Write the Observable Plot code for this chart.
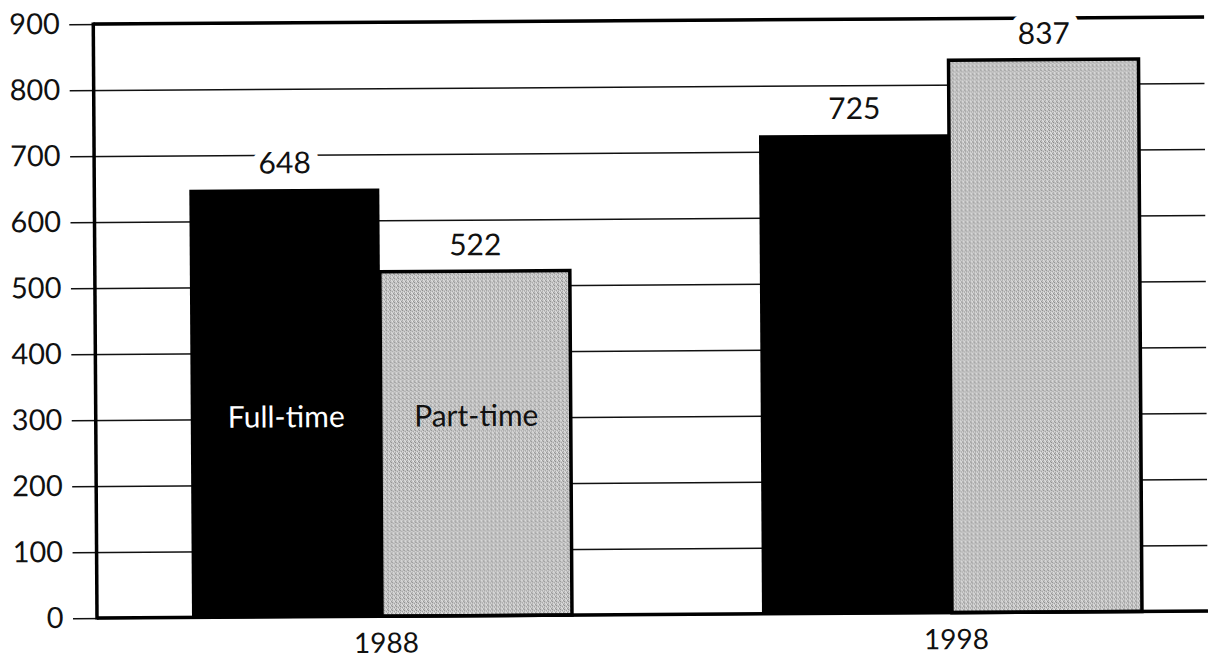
<!DOCTYPE html>
<html>
<head>
<meta charset="utf-8">
<script src="https://cdn.jsdelivr.net/npm/d3@7"></script>
<script src="https://cdn.jsdelivr.net/npm/@observablehq/plot@0.6"></script>
<style>
  html, body { margin: 0; padding: 0; background: #fff; }
  #chart svg { display: block; transform-origin: 97px 618px; transform: rotate(-0.36deg); }
</style>
</head>
<body>
<div id="chart"></div>
<script>
const years = ["1988", "1998"];
const seriesNames = ["Full-time", "Part-time"];
const fullTime = [648, 725];
const partTime = [522, 837];
const yTicks = [0, 100, 200, 300, 400, 500, 600, 700, 800, 900];

const rows = years.flatMap((yr, i) => [
  {year: yr, type: seriesNames[0], value: fullTime[i], key: yr + "|" + seriesNames[0]},
  {year: yr, type: seriesNames[1], value: partTime[i], key: yr + "|" + seriesNames[1]}
]);
const xDomain = [];
years.forEach((yr, i) => {
  if (i > 0) xDomain.push("gap" + i);
  seriesNames.forEach(s => xDomain.push(yr + "|" + s));
});
const xRange = [191, 1143];
const bw = (xRange[1] - xRange[0]) / xDomain.length;
const FONT = "Lato, 'Open Sans', sans-serif";

const plot = Plot.plot({
  width: 1208,
  height: 668,
  marginLeft: 73,
  marginRight: 0,
  marginTop: 24,
  marginBottom: 50,
  style: {fontFamily: FONT, fontSize: "29px", color: "#111", background: "#fff"},
  x: {domain: xDomain, range: xRange, padding: 0, axis: null},
  y: {domain: [0, 900], ticks: yTicks, tickSize: 0, tickPadding: 10, tickFormat: d => String(d), label: null},
  marks: [
    Plot.ruleY(yTicks, {stroke: "#111", strokeWidth: 1.5}),
    Plot.barY(rows.filter(d => d.type === seriesNames[0]), {x: "key", y: "value", fill: "#000", inset: 0}),
    Plot.barY(rows.filter(d => d.type === seriesNames[1]), {x: "key", y: "value", fill: "url(#dither)", stroke: "#000", strokeWidth: 3.5, inset: 0}),
    Plot.text(rows, {x: "key", y: "value", text: d => String(d.value), dy: -26, fontSize: 30, fill: "#111", stroke: "#fff", strokeWidth: 18, paintOrder: "stroke", strokeLinejoin: "round"}),
    Plot.text(rows.filter(d => d.year === years[0]), {x: "key", text: "type", frameAnchor: "bottom", dy: -190, fontSize: 30, fill: d => d.type === seriesNames[0] ? "#fff" : "#111"}),
    Plot.text(rows.filter(d => d.type === seriesNames[1]), {x: "key", text: "year", frameAnchor: "bottom", dy: 36, dx: -bw / 2 + 4, fontSize: 28, fill: "#111"})
  ]
});

const svg = d3.select(plot);
const defs = svg.insert("defs", ":first-child");
const pat = defs.append("pattern").attr("id", "dither").attr("width", 4).attr("height", 4).attr("patternUnits", "userSpaceOnUse");
pat.append("rect").attr("width", 4).attr("height", 4).attr("fill", "#c6c6c6");
[[0,0,"#888888"],[2,1,"#9a9a9a"],[1,2,"#e4e4e4"],[3,3,"#909090"],[2,3,"#ececec"],[0,2,"#a4a4a4"],[3,1,"#dedede"]].forEach(([x,y,c]) =>
  pat.append("rect").attr("x", x).attr("y", y).attr("width", 1).attr("height", 1).attr("fill", c));

const yS = plot.scale("y");
const g = svg.append("g").attr("stroke", "#000").attr("fill", "none");
[0, 900].forEach(v => g.append("line").attr("x1", 97).attr("x2", 1208).attr("y1", yS.apply(v)).attr("y2", yS.apply(v)).attr("stroke-width", 3.5));
g.append("line").attr("x1", 97).attr("x2", 97).attr("y1", yS.apply(900) - 1.5).attr("y2", yS.apply(0) + 1.5).attr("stroke-width", 3.5);
svg.selectAll("g[aria-label='text']").raise();

document.getElementById("chart").appendChild(plot);
</script>
</body>
</html>
